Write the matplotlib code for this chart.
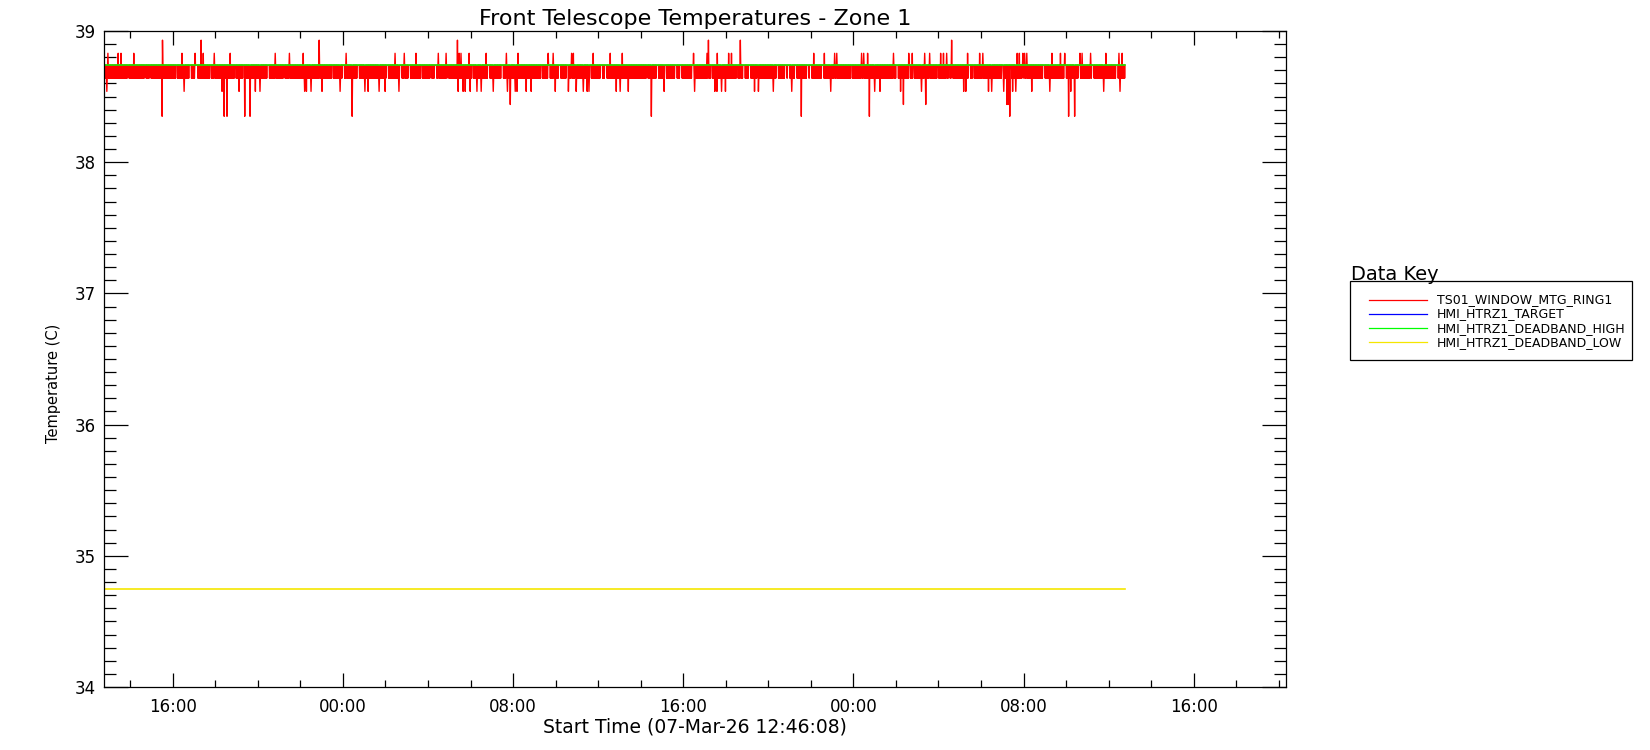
import numpy as np
import matplotlib
matplotlib.use("Agg")
import matplotlib.pyplot as plt
import matplotlib.dates as mdates
from matplotlib.lines import Line2D
from matplotlib.patches import Rectangle

# time base (hours after start)
start = np.datetime64("2026-03-07T12:46:08")
data_hours = 48.0
axis_end_hours = 55.57
cadence_min = 1

series_names = ["TS01_WINDOW_MTG_RING1", "HMI_HTRZ1_TARGET",
                "HMI_HTRZ1_DEADBAND_HIGH", "HMI_HTRZ1_DEADBAND_LOW"]
series_colors = ["#ff0000", "#0000ff", "#00ff00", "#f5e600"]

# sensor readings toggle between two quantised levels
base_high = 38.74
base_low = 38.64
deadband_high = 38.74
deadband_low = 34.745

# excursions (hours after start)
up_3883 = [0.19, 0.66, 0.80, 1.40, 3.67, 4.28, 4.66, 5.18, 5.93, 8.05, 8.71, 9.36,
           11.38, 13.68, 14.11, 14.67, 15.71, 16.08, 16.70, 16.79, 17.17, 17.97, 18.91,
           19.47, 20.88, 21.12, 21.98, 22.07, 23.00, 23.80, 24.37, 27.71, 28.35, 28.84,
           29.36, 29.50, 33.36, 33.87, 34.35, 34.45, 35.62, 35.72, 35.90, 37.12, 37.83,
           38.00, 38.58, 38.81, 39.33, 39.47, 39.61, 40.60, 41.17, 41.31, 42.94, 43.04,
           43.20, 43.29, 43.39, 44.56, 44.96, 45.17, 45.88, 45.98, 46.39, 47.10, 47.71, 47.87]
up_3893 = [2.75, 4.56, 10.11, 16.61, 28.42, 29.92, 39.85]
dn_3854 = [0.14, 3.76, 5.55, 6.35, 7.11, 7.34, 9.44, 9.51, 9.73, 10.25, 11.10, 12.27,
           12.41, 12.93, 13.21, 13.87, 16.65, 16.88, 16.98, 17.21, 17.54, 17.73, 18.30,
           18.96, 19.33, 19.41, 19.85, 20.08, 21.22, 21.83, 22.20, 22.53, 22.72, 22.80,
           24.08, 24.27, 24.65, 26.34, 27.76, 28.71, 28.82, 29.03, 29.22, 30.58, 30.77,
           31.47, 32.34, 34.16, 36.23, 36.48, 37.45, 38.44, 40.42, 40.52, 41.59, 41.73,
           42.30, 42.72, 42.86, 43.61, 44.46, 45.45, 47.00, 47.76]
dn_3844 = [19.10, 37.59, 38.63, 42.45, 42.52]
dn_3835 = [2.73, 5.65, 5.79, 6.61, 6.87, 11.66, 25.73, 32.79, 35.99, 42.58, 45.35, 45.64]
# stretches where the reading stayed at the upper level
steady_hours = [1.13, 1.93, 2.16, 3.39, 4.05, 4.35, 4.99, 6.16, 6.56, 7.72, 8.47, 10.73,
                11.25, 11.95, 13.32, 13.95, 14.35, 14.94, 15.36, 15.58, 16.16, 17.34,
                18.09, 18.71, 20.56, 20.94, 21.41, 21.79, 22.16, 22.87, 23.39, 23.58,
                25.53, 26.02, 26.38, 26.89, 27.11, 27.67, 28.56, 28.75, 29.76, 30.09,
                30.35, 30.73, 31.65, 32.05, 32.19, 32.52, 33.08, 33.22, 33.79, 35.13,
                36.47, 37.29, 37.86, 38.07, 39.20, 39.74, 39.86, 40.68, 40.87, 42.24,
                42.61, 43.20, 44.19, 45.18, 45.84, 46.49, 47.62]


def to_time(hours):
    secs = np.round(np.asarray(hours) * 3600).astype("int64")
    return start + secs.astype("timedelta64[s]")


# assemble the ring temperature record
t_hours = np.arange(0, data_hours * 60 + 1, cadence_min) / 60.0
temp = np.where(np.arange(len(t_hours)) % 2 == 0, base_high, base_low)
for h in steady_hours:
    temp[np.abs(t_hours - h) < 0.04] = base_high
for hours, val in [(up_3883, 38.83), (up_3893, 38.93), (dn_3854, 38.54),
                   (dn_3844, 38.44), (dn_3835, 38.35)]:
    for h in hours:
        temp[np.argmin(np.abs(t_hours - h))] = val

t = to_time(t_hours)
t_lim = to_time([0.0, data_hours])

fig = plt.figure(figsize=(16.5, 7.5), dpi=100)
ax = fig.add_axes([104 / 1650, 1 - 687 / 750, 1182 / 1650, 656 / 750])

ax.plot(t, temp, color=series_colors[0], lw=1.0)
ax.plot(t_lim, [deadband_high, deadband_high], color=series_colors[2], lw=1.1)
ax.plot(t_lim, [deadband_low, deadband_low], color=series_colors[3], lw=1.2)

ax.set_xlim(to_time([0.0, axis_end_hours]))
ax.set_ylim(34, 39)

ax.xaxis.set_major_locator(mdates.HourLocator(byhour=[0, 8, 16]))
ax.xaxis.set_minor_locator(mdates.HourLocator(byhour=range(0, 24, 2)))
ax.xaxis.set_major_formatter(mdates.DateFormatter("%H:%M"))
ax.yaxis.set_major_locator(plt.MultipleLocator(1))
ax.yaxis.set_minor_locator(plt.MultipleLocator(0.1))

ax.tick_params(axis="x", which="major", direction="in", length=10, width=0.9,
               top=True, pad=8, labelsize=12)
ax.tick_params(axis="x", which="minor", direction="in", length=5, width=0.9, top=True)
ax.tick_params(axis="y", which="major", direction="in", length=17, width=0.9,
               right=True, pad=6, labelsize=12)
ax.tick_params(axis="y", which="minor", direction="in", length=8.6, width=0.9, right=True)
for s in ax.spines.values():
    s.set_linewidth(0.9)

ax.set_title("Front Telescope Temperatures - Zone 1", fontsize=16, pad=4)
ax.set_xlabel("Start Time (07-Mar-26 12:46:08)", fontsize=13.5)
ax.xaxis.set_label_coords(0.5, -0.047)
ax.set_ylabel("Temperature (C)", fontsize=10.5)
ax.yaxis.set_label_coords(-0.036, 0.463)

# data key
fig.text(1351 / 1650, 1 - 279.5 / 750, "Data Key", fontsize=14, va="baseline")
fig.add_artist(Rectangle((1350 / 1650, 1 - 360 / 750), 282 / 1650, 79.3 / 750,
                         transform=fig.transFigure, fill=False, lw=0.9, ec="black"))
for i, (name, col) in enumerate(zip(series_names, series_colors)):
    y = 1 - (299.5 + i * 14.3) / 750
    fig.add_artist(Line2D([1369 / 1650, 1427 / 1650], [y, y], color=col, lw=0.9,
                          transform=fig.transFigure))
    fig.text(1437 / 1650, y, name, fontsize=9, va="center")

fig.savefig("out.png", dpi=100, facecolor="white")
